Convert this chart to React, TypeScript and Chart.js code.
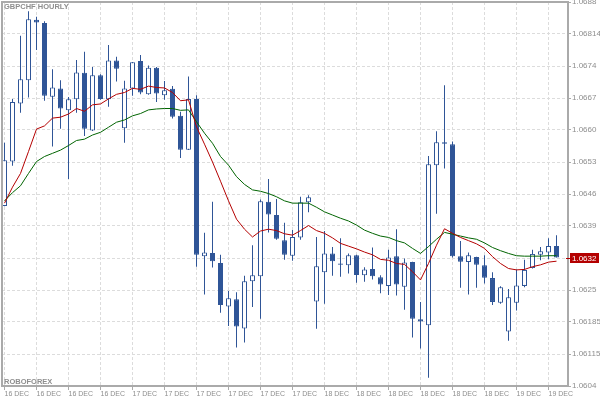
import React, { useEffect, useRef } from "react";
import { Chart, registerables } from "chart.js";

Chart.register(...registerables);

const chartTitle = "GBPCHF HOURLY";
const brokerName = "ROBOFOREX";

const opens = [
  1.06434, 1.06531, 1.06658, 1.06709, 1.06841, 1.06834, 1.06673, 1.06691, 1.06643, 1.06667,
  1.06725, 1.06599, 1.06720, 1.06667, 1.06752, 1.06604, 1.06691, 1.06751, 1.06678, 1.06736,
  1.06676, 1.06690, 1.06631, 1.06557, 1.06668, 1.06324, 1.06331, 1.06309, 1.06214, 1.06230,
  1.06166, 1.06269, 1.06280, 1.06443, 1.06414, 1.06359, 1.06325, 1.06365, 1.06442, 1.06225,
  1.06289, 1.06330, 1.06308, 1.06304, 1.06326, 1.06282, 1.06296, 1.06278, 1.06259, 1.06324,
  1.06257, 1.06311, 1.06186, 1.06173, 1.06523, 1.06573, 1.06569, 1.06324, 1.06311, 1.06322,
  1.06304, 1.06276, 1.06222, 1.06159, 1.06222, 1.06259, 1.06298, 1.06327, 1.06332, 1.06346,
];

const highs = [
  1.06572, 1.06668, 1.06806, 1.06860, 1.06848, 1.06838, 1.06733, 1.06709, 1.06672, 1.06753,
  1.06771, 1.06738, 1.06722, 1.06786, 1.06760, 1.06708, 1.06749, 1.06764, 1.06741, 1.06738,
  1.06707, 1.06696, 1.06640, 1.06717, 1.06676, 1.06375, 1.06443, 1.06327, 1.06248, 1.06245,
  1.06281, 1.06348, 1.06448, 1.06493, 1.06449, 1.06397, 1.06381, 1.06454, 1.06457, 1.06366,
  1.06379, 1.06344, 1.06363, 1.06330, 1.06327, 1.06300, 1.06343, 1.06282, 1.06338, 1.06383,
  1.06319, 1.06312, 1.06224, 1.06543, 1.06597, 1.06698, 1.06575, 1.06357, 1.06332, 1.06323,
  1.06326, 1.06289, 1.06258, 1.06252, 1.06295, 1.06316, 1.06338, 1.06344, 1.06363, 1.06370,
];

const lows = [
  1.06433, 1.06522, 1.06638, 1.06671, 1.06775, 1.06664, 1.06564, 1.06603, 1.06493, 1.06638,
  1.06587, 1.06598, 1.06666, 1.06651, 1.06706, 1.06572, 1.06675, 1.06678, 1.06677, 1.06661,
  1.06666, 1.06625, 1.06539, 1.06556, 1.06301, 1.06240, 1.06299, 1.06200, 1.06171, 1.06124,
  1.06135, 1.06213, 1.06187, 1.06376, 1.06360, 1.06316, 1.06314, 1.06360, 1.06420, 1.06165,
  1.06220, 1.06281, 1.06279, 1.06286, 1.06266, 1.06268, 1.06273, 1.06243, 1.06239, 1.06238,
  1.06207, 1.06146, 1.06122, 1.06058, 1.06417, 1.06516, 1.06321, 1.06255, 1.06240, 1.06255,
  1.06264, 1.06217, 1.06220, 1.06139, 1.06205, 1.06256, 1.06297, 1.06315, 1.06317, 1.06321,
];

const closes = [
  1.06534, 1.06661, 1.06711, 1.06842, 1.06835, 1.06675, 1.06693, 1.06647, 1.06667, 1.06726,
  1.06603, 1.06720, 1.06668, 1.06752, 1.06734, 1.06691, 1.06748, 1.06682, 1.06736, 1.06680,
  1.06687, 1.06629, 1.06557, 1.06668, 1.06327, 1.06332, 1.06313, 1.06217, 1.06232, 1.06170,
  1.06269, 1.06282, 1.06444, 1.06415, 1.06362, 1.06327, 1.06366, 1.06442, 1.06453, 1.06302,
  1.06330, 1.06313, 1.06305, 1.06326, 1.06283, 1.06295, 1.06280, 1.06262, 1.06321, 1.06262,
  1.06310, 1.06187, 1.06181, 1.06525, 1.06573, 1.06570, 1.06324, 1.06312, 1.06326, 1.06305,
  1.06277, 1.06224, 1.06256, 1.06234, 1.06260, 1.06294, 1.06329, 1.06335, 1.06346, 1.06321,
];

const maFast = [
  1.06440, 1.06475, 1.06505, 1.06553, 1.06602, 1.06609, 1.06626, 1.06628, 1.06635, 1.06647,
  1.06641, 1.06655, 1.06657, 1.06668, 1.06678, 1.06682, 1.06691, 1.06689, 1.06696, 1.06693,
  1.06692, 1.06682, 1.06664, 1.06666, 1.06607, 1.06569, 1.06530, 1.06488, 1.06445, 1.06405,
  1.06383, 1.06366, 1.06379, 1.06383, 1.06380, 1.06373, 1.06370, 1.06380, 1.06391, 1.06380,
  1.06374, 1.06364, 1.06352, 1.06346, 1.06340, 1.06333, 1.06327, 1.06317, 1.06315, 1.06308,
  1.06306, 1.06290, 1.06272, 1.06308, 1.06348, 1.06384, 1.06374, 1.06365, 1.06358, 1.06351,
  1.06341, 1.06323, 1.06308, 1.06297, 1.06294, 1.06295, 1.06301, 1.06305, 1.06311, 1.06313,
];

const maSlow = [
  1.06445, 1.06463, 1.06478, 1.06505, 1.06531, 1.06542, 1.06549, 1.06556, 1.06566, 1.06577,
  1.06580, 1.06589, 1.06595, 1.06606, 1.06617, 1.06622, 1.06631, 1.06636, 1.06644, 1.06646,
  1.06647, 1.06647, 1.06643, 1.06644, 1.06618, 1.06593, 1.06571, 1.06542, 1.06523, 1.06498,
  1.06481, 1.06469, 1.06466, 1.06461, 1.06454, 1.06445, 1.06440, 1.06440, 1.06440, 1.06431,
  1.06421, 1.06414, 1.06407, 1.06401, 1.06392, 1.06381, 1.06374, 1.06368, 1.06365, 1.06358,
  1.06353, 1.06341, 1.06330, 1.06345, 1.06361, 1.06376, 1.06372, 1.06368, 1.06364, 1.06361,
  1.06353, 1.06343, 1.06336, 1.06330, 1.06325, 1.06324, 1.06324, 1.06324, 1.06325, 1.06325,
];

const xTickIndex = [0, 4, 8, 12, 16, 20, 24, 28, 32, 36, 40, 44, 48, 52, 56, 60, 64, 68];
const xTickLabels = [
  "16 DEC", "16 DEC", "16 DEC", "16 DEC",
  "17 DEC", "17 DEC", "17 DEC", "17 DEC", "17 DEC", "17 DEC",
  "18 DEC", "18 DEC", "18 DEC", "18 DEC", "18 DEC", "18 DEC",
  "19 DEC", "19 DEC",
];

const yTickValues = [
  1.0688, 1.0681, 1.0674, 1.0667, 1.0660, 1.0653, 1.0646, 1.0639, 1.0632, 1.0625, 1.0618, 1.0611, 1.0604,
];
const yTickLabels = [
  "1.0688", "1.06814", "1.0674", "1.0667", "1.0660", "1.0653", "1.0646", "1.0639", "1.0632", "1.0625",
  "1.06185", "1.06115", "1.0604",
];

const BLUE = "#2f5597";
const FRAME = "#aaaaaa";
const GRID = "#dcdcdc";
const TEXT = "#8e8e8e";
const FONT = "Liberation Sans";

export default function App() {
  const ref = useRef<HTMLCanvasElement | null>(null);

  useEffect(() => {
    if (!ref.current) return;
    const idx = closes.map((_, i) => i);
    const bodyFill = idx.map((i) => (closes[i] > opens[i] ? "#ffffff" : BLUE));

    const overlay = {
      id: "overlay",
      afterDraw(chart: any) {
        const { ctx, chartArea: a, scales } = chart;
        ctx.save();
        ctx.strokeStyle = FRAME;
        ctx.lineWidth = 2;
        ctx.beginPath();
        ctx.moveTo(a.left, a.bottom);
        ctx.lineTo(a.left, a.top);
        ctx.lineTo(a.right, a.top);
        ctx.stroke();

        ctx.fillStyle = TEXT;
        ctx.font = `bold 7.5px "${FONT}"`;
        ctx.textAlign = "left";
        ctx.textBaseline = "top";
        ctx.fillText(chartTitle, a.left + 2, a.top + 1);
        ctx.textBaseline = "alphabetic";
        ctx.fillText(brokerName, a.left + 2, a.bottom - 2);

        const last = closes[closes.length - 1];
        const y = Math.round(scales.y.getPixelForValue(last));
        ctx.fillStyle = "#b40000";
        ctx.fillRect(a.right - 2, y, 4, 1);
        ctx.fillRect(a.right + 2, y - 5, 29, 10);
        ctx.fillStyle = "#ffffff";
        ctx.font = `8px "${FONT}"`;
        ctx.textBaseline = "middle";
        ctx.fillText(last.toFixed(4), a.right + 4, y + 0.5);
        ctx.restore();
      },
    };

    const chart = new Chart(ref.current, {
      type: "bar",
      data: {
        datasets: [
          {
            type: "line",
            label: "MA fast",
            data: idx.map((i) => ({ x: i, y: maFast[i] })),
            borderColor: "#b40000",
            borderWidth: 1,
            pointRadius: 0,
            tension: 0,
            order: 0,
          },
          {
            type: "line",
            label: "MA slow",
            data: idx.map((i) => ({ x: i, y: maSlow[i] })),
            borderColor: "#006400",
            borderWidth: 1,
            pointRadius: 0,
            tension: 0,
            order: 1,
          },
          {
            type: "bar",
            label: "body",
            data: idx.map((i) => ({ x: i, y: [opens[i], closes[i]] })),
            backgroundColor: bodyFill,
            borderColor: BLUE,
            borderWidth: 1,
            borderSkipped: false,
            barThickness: 5,
            grouped: false,
            inflateAmount: 0,
            minBarLength: 1,
            order: 2,
          },
          {
            type: "bar",
            label: "wick",
            data: idx.map((i) => ({ x: i, y: [lows[i], highs[i]] })),
            backgroundColor: BLUE,
            borderWidth: 0,
            barThickness: 1,
            grouped: false,
            inflateAmount: 0,
            order: 3,
          },
        ],
      } as any,
      options: {
        responsive: false,
        animation: false,
        devicePixelRatio: 1,
        layout: { padding: { left: 2, top: 2, right: 0, bottom: 0 } },
        plugins: {
          legend: { display: false },
          tooltip: { enabled: false },
          title: { display: false },
        },
        scales: {
          x: {
            type: "linear",
            position: "bottom",
            min: -0.3125,
            max: 70.4375,
            offset: false,
            afterBuildTicks: (s: any) => {
              s.ticks = xTickIndex.map((v) => ({ value: v }));
            },
            afterFit: (s: any) => {
              s.height = 14;
              s.paddingLeft = 0;
              s.paddingRight = 0;
            },
            grid: {
              color: GRID,
              lineWidth: 1,
              offset: false,
              drawTicks: true,
              tickLength: 4,
              tickColor: FRAME,
              tickWidth: 1,
            },
            border: { display: true, color: FRAME, width: 2, dash: [3, 2] },
            ticks: {
              autoSkip: false,
              maxRotation: 0,
              minRotation: 0,
              align: "start",
              padding: 0,
              color: TEXT,
              font: { family: FONT, size: 7 },
              callback: (_v: any, i: number) => xTickLabels[i],
            },
          },
          y: {
            type: "linear",
            position: "right",
            min: 1.0604,
            max: 1.0688,
            beginAtZero: false,
            afterBuildTicks: (s: any) => {
              s.ticks = yTickValues.map((v) => ({ value: v }));
            },
            afterFit: (s: any) => {
              s.width = 32;
              s.paddingTop = 0;
              s.paddingBottom = 0;
            },
            grid: {
              color: GRID,
              lineWidth: 1,
              drawTicks: true,
              tickLength: 3,
              tickColor: FRAME,
              tickWidth: 1,
            },
            border: { display: true, color: FRAME, width: 2, dash: [3, 2] },
            ticks: {
              autoSkip: false,
              padding: 1,
              color: TEXT,
              font: { family: FONT, size: 8 },
              callback: (_v: any, i: number) => yTickLabels[i],
            },
          },
        },
      } as any,
      plugins: [overlay],
    });

    return () => chart.destroy();
  }, []);

  return (
    <div style={{ position: "absolute", left: 0, top: 0, width: 600, height: 400, background: "#ffffff" }}>
      <canvas ref={ref} width={600} height={400} style={{ display: "block" }} />
    </div>
  );
}
